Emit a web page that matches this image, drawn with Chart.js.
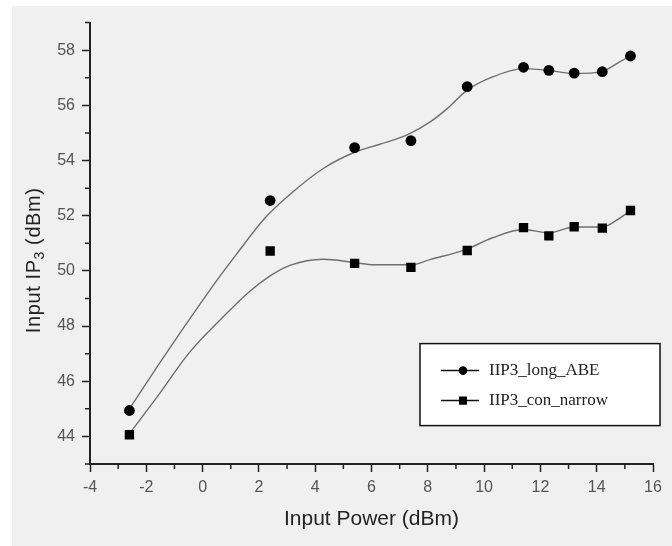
<!DOCTYPE html>
<html>
<head>
<meta charset="utf-8">
<script src="https://cdn.jsdelivr.net/npm/chart.js@4.4.0/dist/chart.umd.min.js"></script>
<style>
  html, body { margin: 0; padding: 0; background: #ffffff; }
  #wrap { position: absolute; left: 12px; top: 6px; width: 660px; height: 540px; background: #f0f0f0; }
</style>
</head>
<body>
<div id="wrap"><canvas id="iip3Chart" width="660" height="540"></canvas></div>
<script>
// measured points
const ptX = [-2.6, 2.4, 5.4, 7.4, 9.4, 11.4, 12.3, 13.2, 14.2, 15.2];
const longABE = [44.94, 52.55, 54.47, 54.72, 56.68, 57.38, 57.27, 57.17, 57.22, 57.79];
const conNarrow = [44.06, 50.72, 50.27, 50.13, 50.74, 51.57, 51.27, 51.60, 51.55, 52.19];

// smoothed fit curves
const fitLongX = [-2.6, -1.6, -0.6, 0.5, 1.2, 2.2, 3.1, 4.3, 5.4, 6.3, 7.3, 8.1, 8.7, 9.4, 10.3, 11.4, 12.3, 13.2, 14.2, 14.8, 15.2];
const fitLongY = [45.0, 46.55, 48.05, 49.65, 50.6, 51.9, 52.77, 53.72, 54.30, 54.59, 54.95, 55.41, 55.89, 56.55, 57.03, 57.33, 57.27, 57.15, 57.23, 57.57, 57.79];
const fitConX = [-2.6, -1.6, -0.5, 0.7, 1.7, 2.4, 3.1, 4.3, 5.4, 6.1, 7.4, 8.1, 9.3, 10.3, 11.4, 12.3, 13.2, 14.2, 14.7, 15.2];
const fitConY = [44.1, 45.45, 47.0, 48.3, 49.28, 49.82, 50.2, 50.42, 50.30, 50.22, 50.22, 50.42, 50.75, 51.2, 51.5, 51.38, 51.59, 51.59, 51.83, 52.19];

// axes
const xTicks = [-4, -2, 0, 2, 4, 6, 8, 10, 12, 14, 16];
const xMinor = [-3, -1, 1, 3, 5, 7, 9, 11, 13, 15];
const yTicks = [44, 46, 48, 50, 52, 54, 56, 58];
const yMinor = [43, 45, 47, 49, 51, 53, 55, 57, 59];
const seriesNames = ['IIP3_long_ABE', 'IIP3_con_narrow'];

const toXY = (xs, ys) => xs.map((x, i) => ({ x: x, y: ys[i] }));

// petits ticks intermédiaires
const minorTicks = {
    id: 'minorTicks',
    afterDraw(chart) {
        const ctx = chart.ctx;
        const xs = chart.scales.x, ys = chart.scales.y;
        ctx.save();
        ctx.strokeStyle = '#222';
        ctx.lineWidth = 1.5;
        ctx.beginPath();
        xMinor.forEach(v => {
            const px = xs.getPixelForValue(v);
            ctx.moveTo(px, xs.top);
            ctx.lineTo(px, xs.top + 5);
        });
        yMinor.forEach(v => {
            const py = ys.getPixelForValue(v);
            ctx.moveTo(ys.right, py);
            ctx.lineTo(ys.right - 5, py);
        });
        ctx.stroke();
        ctx.restore();
    }
};

// titre vertical avec indice
const yTitle = {
    id: 'yTitle',
    afterDraw(chart) {
        const ctx = chart.ctx;
        const area = chart.chartArea;
        ctx.save();
        ctx.translate(22, (area.top + area.bottom) / 2 + 17);
        ctx.rotate(-Math.PI / 2);
        ctx.fillStyle = '#222';
        ctx.textBaseline = 'middle';
        ctx.letterSpacing = '0.6px';
        const big = '20px "Liberation Sans", Arial, sans-serif';
        const small = '14px "Liberation Sans", Arial, sans-serif';
        ctx.font = big;
        const w1 = ctx.measureText('Input IP').width;
        const w3 = ctx.measureText(' (dBm)').width;
        ctx.font = small;
        const w2 = ctx.measureText('3').width;
        let x = -(w1 + w2 + w3) / 2;
        ctx.font = big;
        ctx.fillText('Input IP', x, 0);
        x += w1;
        ctx.font = small;
        ctx.fillText('3', x, 6);
        x += w2;
        ctx.font = big;
        ctx.fillText(' (dBm)', x, 0);
        ctx.restore();
    }
};

// légende encadrée dans la zone du graphique
const boxLegend = {
    id: 'boxLegend',
    afterDraw(chart) {
        const ctx = chart.ctx;
        const area = chart.chartArea;
        const bx = area.left + 330, by = area.top + 321, bw = 240, bh = 82;
        ctx.save();
        ctx.fillStyle = '#ffffff';
        ctx.fillRect(bx, by, bw, bh);
        ctx.strokeStyle = '#111';
        ctx.lineWidth = 1.5;
        ctx.strokeRect(bx, by, bw, bh);
        const rows = [by + 27, by + 57];
        const styles = ['circle', 'rect'];
        rows.forEach((ry, i) => {
            ctx.strokeStyle = '#111';
            ctx.lineWidth = 1.5;
            ctx.beginPath();
            ctx.moveTo(bx + 21, ry);
            ctx.lineTo(bx + 59, ry);
            ctx.stroke();
            ctx.fillStyle = '#000';
            Chart.helpers.drawPoint(ctx, { pointStyle: styles[i], radius: styles[i] === 'rect' ? 5.5 : 4.2, borderWidth: 0 }, bx + 43, ry);
            ctx.fill();
            ctx.fillStyle = '#222';
            ctx.font = '17px "Liberation Serif", "Times New Roman", serif';
            ctx.textBaseline = 'middle';
            ctx.fillText(seriesNames[i], bx + 69, ry);
        });
        ctx.restore();
    }
};

const tickFont = { family: '"Liberation Sans", Arial, sans-serif', size: 16 };

const config = {
    type: 'scatter',
    data: {
        datasets: [
            {
                label: seriesNames[0],
                data: toXY(ptX, longABE),
                pointStyle: 'circle',
                pointRadius: 5.4,
                backgroundColor: '#000',
                borderColor: '#000',
                borderWidth: 0,
                showLine: false,
                order: 0
            },
            {
                label: seriesNames[1],
                data: toXY(ptX, conNarrow),
                pointStyle: 'rect',
                pointRadius: 6.6,
                backgroundColor: '#000',
                borderColor: '#000',
                borderWidth: 0,
                showLine: false,
                order: 0
            },
            {
                label: 'fit long',
                data: toXY(fitLongX, fitLongY),
                showLine: true,
                pointRadius: 0,
                borderColor: '#6e6e6e',
                borderWidth: 1.4,
                cubicInterpolationMode: 'monotone',
                order: 1
            },
            {
                label: 'fit con',
                data: toXY(fitConX, fitConY),
                showLine: true,
                pointRadius: 0,
                borderColor: '#6e6e6e',
                borderWidth: 1.4,
                cubicInterpolationMode: 'monotone',
                order: 1
            }
        ]
    },
    options: {
        responsive: false,
        animation: false,
        layout: { padding: { left: 0, right: 19, top: 14, bottom: 0 } },
        scales: {
            x: {
                type: 'linear',
                min: -4,
                max: 16,
                afterBuildTicks: s => { s.ticks = xTicks.map(v => ({ value: v })); },
                afterFit: s => { s.height = 82; },
                grid: { drawOnChartArea: false, drawTicks: true, tickLength: 8, tickColor: '#222', tickWidth: 1.5 },
                border: { display: true, color: '#222', width: 2 },
                ticks: { font: tickFont, color: '#555', padding: 6, maxRotation: 0 },
                title: {
                    display: true,
                    text: 'Input Power (dBm)',
                    font: { family: '"Liberation Sans", Arial, sans-serif', size: 21 },
                    color: '#222',
                    padding: { top: 0, bottom: 14 }
                }
            },
            y: {
                type: 'linear',
                min: 43,
                max: 59,
                afterBuildTicks: s => { s.ticks = yTicks.map(v => ({ value: v })); },
                afterFit: s => { s.width = 78; },
                grid: { drawOnChartArea: false, drawTicks: true, tickLength: 8, tickColor: '#222', tickWidth: 1.5 },
                border: { display: true, color: '#222', width: 2 },
                ticks: { font: tickFont, color: '#555', padding: 7 }
            }
        },
        plugins: {
            legend: { display: false },
            tooltip: { enabled: false }
        }
    },
    plugins: [minorTicks, yTitle, boxLegend]
};

const iip3Chart = new Chart(document.getElementById('iip3Chart'), config);
</script>
</body>
</html>
